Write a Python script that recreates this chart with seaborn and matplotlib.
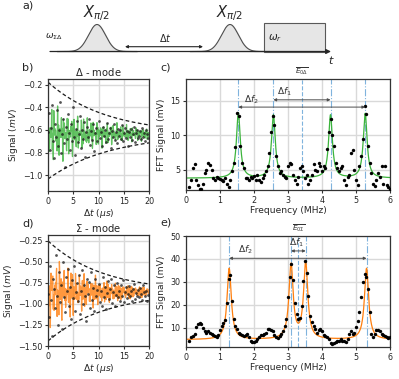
import numpy as np
import matplotlib
matplotlib.use('Agg')
import matplotlib.pyplot as plt
import seaborn as sns
import pandas as pd
from matplotlib.patches import Rectangle

sns.set_theme(style='whitegrid')
plt.rcParams['font.family'] = ['DejaVu Sans']
plt.rcParams['mathtext.fontset'] = 'dejavusans'
plt.rcParams['axes.edgecolor'] = '0.2'
plt.rcParams['axes.linewidth'] = 0.9
plt.rcParams['grid.color'] = '0.85'
plt.rcParams['grid.linewidth'] = 1.0

# ---------------- data ----------------
# time-domain measured points (Delta mode, panel b), t = 0 .. 19.8 us step 0.2
b_signal = [-0.62, -0.45, -0.78, -0.58, -0.38, -0.70, -0.85, -0.55, -0.66, -0.42,
            -0.74, -0.60, -0.35, -0.80, -0.64, -0.50, -0.72, -0.93, -0.57, -0.68,
            -0.46, -0.63, -0.78, -0.55, -0.70, -0.40, -0.66, -0.82, -0.59, -0.52,
            -0.71, -0.64, -0.48, -0.76, -0.60, -0.68, -0.53, -0.84, -0.62, -0.57,
            -0.66, -0.50, -0.73, -0.61, -0.69, -0.55, -0.79, -0.63, -0.58, -0.70,
            -0.52, -0.67, -0.62, -0.74, -0.57, -0.65, -0.60, -0.71, -0.54, -0.68,
            -0.63, -0.58, -0.76, -0.61, -0.66, -0.55, -0.69, -0.62, -0.72, -0.59,
            -0.65, -0.60, -0.68, -0.56, -0.70, -0.63, -0.58, -0.67, -0.61, -0.74,
            -0.62, -0.66, -0.59, -0.69, -0.64, -0.57, -0.71, -0.63, -0.60, -0.67,
            -0.65, -0.61, -0.68, -0.58, -0.66, -0.63, -0.70, -0.60, -0.64, -0.67]
# Sigma mode, panel d
d_signal = [-0.88, -1.15, -0.55, -0.95, -1.38, -0.70, -0.82, -1.05, -0.42, -0.90,
            -1.25, -0.62, -0.98, -0.78, -1.30, -0.50, -0.92, -1.10, -0.68, -0.85,
            -0.58, -1.02, -0.80, -1.18, -0.72, -0.93, -0.55, -1.08, -0.86, -0.75,
            -0.97, -0.66, -1.12, -0.84, -0.60, -1.00, -0.78, -0.91, -1.20, -0.70,
            -0.88, -0.74, -1.05, -0.62, -0.95, -0.81, -1.08, -0.70, -0.90, -0.83,
            -0.76, -0.98, -0.85, -1.02, -0.68, -0.92, -0.80, -1.06, -0.87, -0.73,
            -0.94, -0.82, -0.70, -0.99, -0.86, -0.77, -1.03, -0.89, -0.75, -0.92,
            -0.84, -0.96, -0.78, -0.90, -0.72, -0.98, -0.86, -0.80, -0.93, -0.88,
            -0.79, -0.91, -0.85, -0.97, -0.82, -0.76, -0.94, -0.87, -0.90, -0.83,
            -0.92, -0.81, -0.88, -0.95, -0.78, -0.86, -0.90, -0.84, -0.97, -0.89]
t_step = 0.2

# fit parameters for time-domain (centre, amplitudes, frequencies, decay)
b_center = -0.635
b_freqs = [1.54, 2.57, 4.25, 5.27]
b_amps = [0.085, 0.08, 0.08, 0.085]
b_tau = 12.0
b_env_up, b_env_low, b_env_tau_up, b_env_tau_low = 0.46, 0.40, 11.4, 12.4

d_center = -0.86
d_freqs = [1.27, 3.09, 3.52, 5.31]
d_amps = [0.14, 0.13, 0.13, 0.13]
d_tau = 11.0
d_env_up, d_env_low, d_env_tau_up, d_env_tau_low = 0.61, 0.58, 10.9, 11.3

# FFT points, f = 0.10 .. 6.00 MHz step 0.05
c_fft = [2.5, 3.5, 5.2, 5.8, 3.5, 2.8, 2.3, 2.2, 3.0, 4.5,
         5.0, 6.0, 5.7, 5.0, 3.8, 3.5, 4.0, 3.9, 3.7, 3.6,
         3.4, 3.8, 3.0, 2.6, 3.5, 4.8, 6.0, 8.3, 13.2, 12.8,
         8.5, 6.0, 5.2, 3.8, 3.9, 3.5, 4.0, 3.8, 4.1, 3.6,
         4.2, 3.5, 3.2, 3.8, 4.3, 4.8, 5.5, 7.5, 10.5, 12.8,
         11.5, 7.0, 5.5, 4.5, 4.8, 4.2, 4.0, 3.9, 5.5, 6.0,
         5.8, 4.2, 3.5, 3.0, 4.0, 5.2, 5.5, 4.8, 3.8, 4.2,
         3.0, 3.5, 4.3, 5.8, 5.0, 4.8, 6.0, 5.5, 4.8, 5.5,
         5.2, 8.0, 10.5, 12.3, 10.0, 8.5, 6.0, 5.2, 4.8, 5.3,
         5.6, 3.5, 2.8, 4.0, 4.3, 7.5, 7.8, 5.0, 3.5, 2.8,
         5.5, 7.0, 9.5, 14.2, 13.0, 8.5, 6.0, 4.5, 3.0, 2.7,
         3.5, 4.5, 4.0, 5.5, 3.0, 5.5, 2.8, 2.5, 2.2]
e_fft = [4.3, 6.0, 6.5, 7.5, 10.5, 11.5, 12.0, 11.5, 10.0, 8.5,
         8.0, 8.5, 8.0, 7.5, 7.0, 6.5, 6.0, 7.0, 9.0, 11.0,
         12.0, 13.5, 21.0, 31.5, 33.0, 21.5, 14.0, 11.0, 9.5, 8.0,
         7.5, 7.0, 6.5, 7.0, 7.5, 6.0, 4.5, 4.0, 4.0, 4.5,
         5.0, 6.0, 7.0, 7.0, 7.5, 8.0, 9.5, 9.5, 9.0, 8.5,
         7.0, 6.0, 5.5, 6.5, 7.5, 8.5, 11.0, 14.0, 23.5, 32.0,
         38.0, 31.0, 21.0, 16.0, 14.0, 14.5, 19.5, 30.5, 39.0, 34.0,
         24.0, 15.0, 12.5, 11.0, 9.5, 8.0, 9.0, 9.5, 8.5, 7.0,
         6.5, 6.0, 5.0, 3.5, 3.0, 3.5, 4.0, 4.5, 4.5, 5.0,
         4.5, 4.5, 4.0, 5.0, 7.5, 8.5, 7.5, 8.0, 10.5, 13.0,
         17.0, 23.5, 30.0, 33.5, 32.0, 27.0, 17.0, 7.5, 6.0, 7.5,
         9.0, 9.0, 8.5, 7.5, 7.0, 6.5, 6.0, 5.5, 6.0]
f_step = 0.05
f_start = 0.10

# Lorentzian fit parameters
c_offset = 3.8
c_centers = [1.54, 2.57, 4.25, 5.27]
c_heights = [9.4, 9.1, 9.1, 9.3]
c_width = 0.068
c_mid = 3.40
e_offset = 4.9
e_centers = [1.27, 3.09, 3.52, 5.31]
e_heights = [31.0, 32.3, 33.0, 31.0]
e_width = 0.075
e_mid = 3.30

# ---------------- helpers ----------------
def decay_fit(t, center, freqs, amps, tau):
    y = np.full_like(t, center)
    for f, a in zip(freqs, amps):
        y = y + a * np.exp(-t / tau) * np.cos(2 * np.pi * f * t)
    return y

def lorentz(f, off, centers, heights, g):
    y = np.full_like(f, off)
    for c, h in zip(centers, heights):
        y = y + h * g**2 / ((f - c)**2 + g**2)
    return y

W, H = 399, 379
fig = plt.figure(figsize=(W / 100, H / 100), dpi=100)

def pos(l, r, t, b):
    return [l / W, 1 - b / H, (r - l) / W, (b - t) / H]

ax_b = fig.add_axes(pos(48, 149, 79, 191))
ax_c = fig.add_axes(pos(186, 390, 79, 190))
ax_d = fig.add_axes(pos(48, 149, 235, 346))
ax_e = fig.add_axes(pos(186, 390, 236, 347))
ax_a = fig.add_axes([0, 1 - 66 / H, 1, 66 / H])

GREEN = '#3cb43c'
ORANGE = '#ff7f0e'
VBLUE = '#7fb3dd'
TICK_FS = 5.8
LAB_FS = 6.6

def time_panel(ax, sig, center, freqs, amps, tau, eu, el, tu, tl, color, ylim, yticks, yfmt):
    t_pts = np.arange(len(sig)) * t_step
    t_fit = np.arange(0, 20.0001, 0.05)
    df_fit = pd.DataFrame({'t': t_fit, 'y': decay_fit(t_fit, center, freqs, amps, tau)})
    sns.lineplot(data=df_fit, x='t', y='y', ax=ax, color=color, lw=0.9, alpha=0.8)
    sns.scatterplot(x=t_pts, y=np.array(sig), ax=ax, color='0.1', s=4, alpha=0.75,
                    linewidth=0, zorder=3)
    t_env = np.linspace(0, 20, 200)
    ax.plot(t_env, center + eu * np.exp(-t_env / tu), color='0.1', ls=(0, (3, 2)), lw=0.9)
    ax.plot(t_env, center - el * np.exp(-t_env / tl), color='0.1', ls=(0, (3, 2)), lw=0.9)
    ax.set_xlim(0, 20)
    ax.set_ylim(*ylim)
    ax.set_xticks([0, 5, 10, 15, 20])
    ax.set_yticks(yticks)
    ax.set_yticklabels([yfmt.format(v).replace('-', '\u2212') for v in yticks])
    ax.set_xlabel(r'$\Delta t\ (\mu s)$', fontsize=LAB_FS, labelpad=1)
    ax.set_ylabel(r'Signal $(mV)$', fontsize=LAB_FS, labelpad=2)

def fft_panel(ax, vals, off, centers, heights, g, mid, color, ylim, yticks,
              arr2_y, arr1_y, lab2, lab1, mid_label):
    f_pts = f_start + np.arange(len(vals)) * f_step
    f_fit = np.linspace(0.0, 6.0, 1200)
    df_fit = pd.DataFrame({'f': f_fit, 'y': lorentz(f_fit, off, centers, heights, g)})
    for c in centers:
        ax.axvline(c, color=VBLUE, lw=0.8, ls='-.', zorder=1)
    ax.axvline(mid, color=VBLUE, lw=0.8, ls='--', zorder=1)
    sns.lineplot(data=df_fit, x='f', y='y', ax=ax, color=color, lw=0.9)
    sns.scatterplot(x=f_pts, y=np.array(vals), ax=ax, color='black', s=6,
                    linewidth=0, zorder=3)
    ap = dict(arrowstyle='<|-|>', mutation_scale=4, color='0.3', lw=0.7,
              shrinkA=0, shrinkB=0)
    ax.annotate('', xy=(centers[0], arr2_y), xytext=(centers[3], arr2_y), arrowprops=ap)
    ax.annotate('', xy=(centers[1], arr1_y), xytext=(centers[2], arr1_y), arrowprops=ap)
    ax.text(lab2[0], lab2[1], r'$\Delta f_2$', fontsize=6.5, ha='center', va='center', color='0.2')
    ax.text(lab1[0], lab1[1], r'$\Delta f_1$', fontsize=6.5, ha='center', va='center', color='0.2')
    ax.text(mid, ylim[1] + (ylim[1] - ylim[0]) * 0.02, mid_label, fontsize=5.2,
            ha='center', va='bottom', color='0.2')
    ax.set_xlim(0, 6)
    ax.set_ylim(*ylim)
    ax.set_xticks(range(7))
    ax.set_yticks(yticks)
    ax.set_xlabel('Frequency (MHz)', fontsize=LAB_FS, labelpad=1)
    ax.set_ylabel('FFT Signal (mV)', fontsize=LAB_FS, labelpad=3)

time_panel(ax_b, b_signal, b_center, b_freqs, b_amps, b_tau, b_env_up, b_env_low,
           b_env_tau_up, b_env_tau_low, GREEN, (-1.142, -0.147),
           [-0.2, -0.4, -0.6, -0.8, -1.0], '{:.1f}')
time_panel(ax_d, d_signal, d_center, d_freqs, d_amps, d_tau, d_env_up, d_env_low,
           d_env_tau_up, d_env_tau_low, ORANGE, (-1.50, -0.18),
           [-0.25, -0.5, -0.75, -1.0, -1.25, -1.5], '{:.2f}')
fft_panel(ax_c, c_fft, c_offset, c_centers, c_heights, c_width, c_mid, GREEN,
          (2.1, 18.1), [5, 10, 15], 14.05, 15.1, (1.91, 15.1), (2.88, 16.2),
          r'$\overline{E_{0\Delta}}$')
fft_panel(ax_e, e_fft, e_offset, e_centers, e_heights, e_width, e_mid, ORANGE,
          (1.7, 50), [10, 20, 30, 40, 50], 40.3, 43.5, (1.74, 44.0), (3.24, 47.0),
          r'$\overline{E_{0\Sigma}}$')

for ax in (ax_b, ax_c, ax_d, ax_e):
    ax.tick_params(axis='both', which='major', labelsize=TICK_FS, length=2.5, width=0.8,
                   color='0.2', pad=1.5, left=True, bottom=True)
    ax.grid(True, color='0.85', lw=1.0)
    for s in ax.spines.values():
        s.set_color('0.2')
        s.set_linewidth(0.9)

ax_b.set_title(r'$\Delta$ - mode', fontsize=7.2, pad=2)
ax_d.set_title(r'$\Sigma$ - mode', fontsize=7.2, pad=2)

# ---------------- panel a (schematic) ----------------
ax_a.set_xlim(0, W)
ax_a.set_ylim(66, 0)
ax_a.axis('off')
base_y = 51.5
pulse_centers = [97, 230]
pulse_h, pulse_s = 27, 8.5
for pc in pulse_centers:
    xx = np.linspace(pc - 40, pc + 40, 300)
    yy = base_y - pulse_h * np.exp(-(xx - pc) ** 2 / (2 * pulse_s ** 2))
    ax_a.fill_between(xx, yy, base_y, color='0.9', zorder=1)
    ax_a.plot(xx, yy, color='0.3', lw=0.8, zorder=2)
    ax_a.text(pc, 13, r'$X_{\pi/2}$', fontsize=10.5, ha='center', va='center')
ax_a.add_patch(Rectangle((264, 23.3), 61, base_y - 23.3, facecolor='0.9',
                         edgecolor='0.35', lw=0.8, zorder=1))
ax_a.annotate('', xy=(331, base_y), xytext=(50, base_y),
              arrowprops=dict(arrowstyle='-|>', mutation_scale=7, color='0.15', lw=0.9,
                              shrinkA=0, shrinkB=0))
ax_a.text(331, 60, r'$t$', fontsize=8, ha='center', va='center')
ax_a.text(268, 38, r'$\omega_r$', fontsize=7.5, ha='left', va='center')
ax_a.text(45, 37, r'$\omega_{\Sigma\Delta}$', fontsize=6.5, ha='left', va='center')
ax_a.annotate('', xy=(125, 46.7), xytext=(203, 46.7),
              arrowprops=dict(arrowstyle='<|-|>', mutation_scale=4, color='0.15', lw=0.8,
                              shrinkA=0, shrinkB=0))
ax_a.text(165, 38, r'$\Delta t$', fontsize=7, ha='center', va='center')

# panel labels
fig.text(22 / W, 1 - 6 / H, 'a)', fontsize=8, ha='left', va='center')
fig.text(22 / W, 1 - 67 / H, 'b)', fontsize=8, ha='left', va='center')
fig.text(160 / W, 1 - 67 / H, 'c)', fontsize=8, ha='left', va='center')
fig.text(22 / W, 1 - 223 / H, 'd)', fontsize=8, ha='left', va='center')
fig.text(160 / W, 1 - 222 / H, 'e)', fontsize=8, ha='left', va='center')

fig.savefig('out.png', dpi=100)
